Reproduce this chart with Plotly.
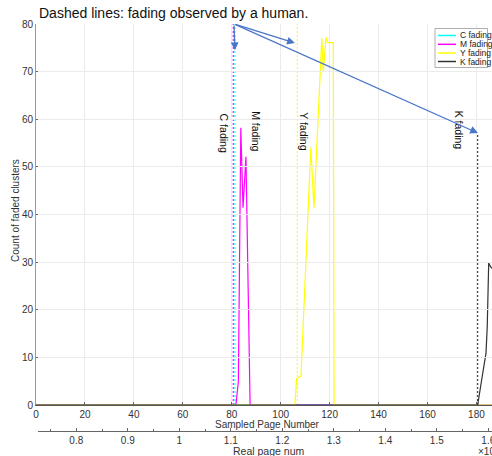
import plotly.graph_objects as go

# ---------------- data ----------------
series_names = ["C fading", "M fading", "Y fading", "K fading"]
series_colors = ["#00ffff", "#ff00ff", "#ffff00", "#333333"]

c_x = [0, 188]
c_y = [0, 0]

m_x = [0, 81.7, 82.7, 83.7, 84.6, 85.8, 87.5, 188]
m_y = [0, 0, 5.0, 58.2, 41.4, 52.1, 0, 0]

y_x = [0, 105.8, 106.5, 107.3, 108.3, 112.3, 113.6, 116.8, 117.4, 118.5, 119.1, 121.5, 121.8, 188]
y_y = [0, 0, 5.5, 5.7, 6.1, 54.0, 41.4, 77.0, 70.0, 77.2, 76.1, 76.1, 0, 0]

k_x = [0, 180.5, 182.1, 183.9, 184.4, 185.0, 185.8, 188]
k_y = [0, 0, 5.2, 10.9, 16.4, 29.8, 29.0, 28.0]

# human-observed fading points (dashed lines)
observed_x = [81.3, 80.6, 106.8, 180.5]
observed_top = [80, 80, 80, 57.1]

# rotated labels
label_text = ["C fading", "M fading", "Y fading", "K fading"]
label_x = [76.6, 89.9, 109.5, 172.9]
label_y = [57.1, 57.5, 57.3, 57.8]

# arrows
arrow_tail = (80.9, 80.0)
arrow_head_x = [81.3, 105.8, 180.6]
arrow_head_y = [74.5, 76.0, 57.1]

x_ticks = [0, 20, 40, 60, 80, 100, 120, 140, 160, 180]
y_ticks = [0, 10, 20, 30, 40, 50, 60, 70, 80]
real_ticks = [0.8, 0.9, 1.0, 1.1, 1.2, 1.3, 1.4, 1.5, 1.6]
real_labels = ["0.8", "0.9", "1", "1.1", "1.2", "1.3", "1.4", "1.5", "1.6"]
real_minor = [0.75, 0.85, 0.95, 1.05, 1.15, 1.25, 1.35, 1.45, 1.55]

# ---------------- figure ----------------
W, H = 492, 456
L, T = 36, 24
PW, PH = W - L, H - T


def px_x(p):
    return (p - L) / PW


def px_y(p):
    return (H - p) / PH


FONT = "Liberation Sans, Arial, Helvetica, sans-serif"

fig = go.Figure()

# dashed observed lines
for xv, top, col in zip(observed_x, observed_top, series_colors):
    fig.add_trace(go.Scatter(
        x=[xv, xv], y=[0, top], mode="lines",
        line=dict(color=col, width=1.1, dash="2px,2px"),
        showlegend=False, hoverinfo="skip"))

# data series
for xs, ys, col, nm in zip([c_x, m_x, y_x, k_x], [c_y, m_y, y_y, k_y], series_colors, series_names):
    fig.add_trace(go.Scatter(
        x=xs, y=ys, mode="lines", name=nm,
        line=dict(color=col, width=1.2),
        showlegend=False))

# empty trace to create the "Real page num" axis
fig.add_trace(go.Scatter(x=[], y=[], xaxis="x2", yaxis="y", showlegend=False, hoverinfo="skip"))

annotations = []
for t, xv, yv in zip(label_text, label_x, label_y):
    annotations.append(dict(x=xv, y=yv, xref="x", yref="y", text=t, textangle=90,
                            xanchor="center", yanchor="middle",
                            showarrow=False, font=dict(family=FONT, size=10.5, color="#111")))

for hx, hy in zip(arrow_head_x, arrow_head_y):
    annotations.append(dict(x=hx, y=hy, xref="x", yref="y",
                            ax=arrow_tail[0], ay=arrow_tail[1], axref="x", ayref="y",
                            text="", showarrow=True, arrowhead=2, arrowsize=1.2,
                            arrowwidth=1.3, arrowcolor="#4a76c9"))


def ptext(x, y, text, size, xanchor="center", angle=0, color="#333"):
    return dict(x=px_x(x), y=px_y(y), xref="paper", yref="paper", text=text,
                xanchor=xanchor, yanchor="middle", textangle=angle, showarrow=False,
                font=dict(family=FONT, size=size, color=color))


annotations.append(ptext(267, 424.5, "Sampled Page Number", 10))
annotations.append(ptext(268, 450.5, "Real page num", 10.5))
annotations.append(ptext(476, 451, "×10<sup>4</sup>", 10, xanchor="left"))
annotations.append(ptext(15, 211, "Count of faded clusters", 10, angle=-90))
annotations.append(ptext(37, 13, "Dashed lines: fading observed by a human.", 14,
                         xanchor="left", color="#111"))

# manual legend
shapes = [dict(type="rect", xref="paper", yref="paper",
               x0=px_x(435), x1=px_x(487.5), y0=px_y(28.5), y1=px_y(67.5),
               line=dict(color="#9a9a9a", width=0.8), fillcolor="white", layer="above")]
leg_y = [35.5, 44.3, 53.0, 61.5]
for nm, col, ly in zip(series_names, series_colors, leg_y):
    shapes.append(dict(type="line", xref="paper", yref="paper",
                       x0=px_x(438), x1=px_x(456), y0=px_y(ly), y1=px_y(ly),
                       line=dict(color=col, width=1.5), layer="above"))
    annotations.append(ptext(457.5, ly, nm, 8.5, xanchor="left", color="#222"))

fig.update_layout(
    width=W, height=H,
    margin=dict(l=L, r=0, t=T, b=0, pad=0, autoexpand=False),
    paper_bgcolor="white", plot_bgcolor="rgba(0,0,0,0)",
    font=dict(family=FONT, size=10, color="#333"),
    showlegend=False,
    xaxis=dict(range=[0, PW / 2.447], domain=[0, 1], anchor="y", automargin=False,
               tickvals=x_ticks, ticks="inside", ticklen=3, tickcolor="#666",
               showgrid=True, gridcolor="#ebebeb", gridwidth=1,
               showline=True, linecolor="#555", linewidth=1, zeroline=False,
               tickfont=dict(size=10, color="#333")),
    yaxis=dict(range=[0, 80], domain=[px_y(405), 1], anchor="x", automargin=False,
               tickvals=y_ticks, ticks="inside", ticklen=3, tickcolor="#666",
               showgrid=True, gridcolor="#ebebeb", gridwidth=1,
               showline=True, linecolor="#999", linewidth=1, zeroline=False,
               tickfont=dict(size=10, color="#333")),
    xaxis2=dict(range=[0.7262, 1.6072], domain=[px_x(38.3), 1], anchor="free",
                position=px_y(431.3), automargin=False,
                tickvals=real_ticks, ticktext=real_labels, ticklabeloverflow="allow",
                ticks="inside", ticklen=3, tickcolor="#666",
                minor=dict(tickvals=real_minor, ticks="inside", ticklen=2, tickcolor="#666"),
                showgrid=False, showline=True, linecolor="#666", linewidth=1,
                zeroline=False, tickfont=dict(size=10, color="#333")),
    annotations=annotations,
    shapes=shapes,
)

fig.write_html("out.html")
